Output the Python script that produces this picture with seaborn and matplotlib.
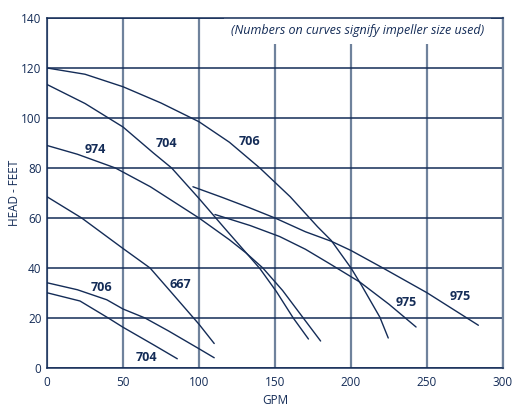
import pandas as pd
import matplotlib
matplotlib.use("Agg")
import matplotlib.pyplot as plt
import seaborn as sns

# pump curves: flow (GPM) and head (feet)
gpm_706_a = [0, 25, 50, 75, 100, 120, 140, 160, 178, 187, 200, 207, 219, 224.5]
head_706_a = [120, 117.5, 112.5, 106, 98.5, 90.3, 80, 68.5, 56.5, 51, 40, 33, 20.3, 12]

gpm_704_a = [0, 25, 50, 70, 82, 100, 117, 134, 140, 151, 162, 172]
head_704_a = [113.4, 105.8, 96.4, 86, 80, 67.8, 55.8, 44, 39.8, 30.5, 20, 11.6]

gpm_974 = [0, 20, 45, 68, 100, 120, 131, 142, 155, 168.6, 180]
head_974 = [89, 85.5, 80, 72.5, 60, 51.3, 46, 40, 31, 20, 10.8]

gpm_667 = [0, 22.8, 50, 67.8, 81, 100, 110]
head_667 = [68.5, 60, 47.8, 40, 30.8, 17.5, 9.8]

gpm_706_b = [0, 20, 39.3, 50, 64.5, 80, 100, 110]
head_706_b = [34.1, 31.3, 27.3, 23.6, 20, 14.8, 7.7, 4.1]

gpm_704_b = [0, 21.7, 40.3, 50, 70, 85.7]
head_704_b = [30.1, 26.8, 20, 16.3, 9.3, 3.7]

gpm_975_a = [96, 115, 133.6, 150, 170, 187, 200, 221, 250, 283.8]
head_975_a = [72.5, 68.3, 64, 60, 54.5, 50.7, 47, 40, 30.1, 17.1]

gpm_975_b = [110.5, 133.6, 153, 170, 186, 206, 225, 242.8]
head_975_b = [61.4, 57, 52.6, 47.5, 41.7, 34.3, 25.5, 16.4]

curves = {
    '706a': (gpm_706_a, head_706_a),
    '704a': (gpm_704_a, head_704_a),
    '974': (gpm_974, head_974),
    '667': (gpm_667, head_667),
    '706b': (gpm_706_b, head_706_b),
    '704b': (gpm_704_b, head_704_b),
    '975a': (gpm_975_a, head_975_a),
    '975b': (gpm_975_b, head_975_b),
}

# impeller size labels placed next to the curves
label_text = ['706', '704', '974', '667', '706', '704', '975', '975']
label_gpm = [133.5, 78.7, 31.6, 88, 36, 65.6, 236.6, 271.7]
label_head = [90.7, 89.7, 87.2, 33.4, 32.3, 4.3, 26.2, 28.5]

rows = []
for name, (xs, ys) in curves.items():
    for x, y in zip(xs, ys):
        rows.append({'curve': name, 'GPM': x, 'HEAD': y})
df = pd.DataFrame(rows)

navy = '#142c57'
grey_blue = '#6f829c'

sns.set_style("white")
plt.rcParams['font.family'] = ['Open Sans', 'DejaVu Sans']

fig, ax = plt.subplots(figsize=(5.15, 4.07), dpi=100)
fig.subplots_adjust(left=0.0913, right=0.9767, top=0.9558, bottom=0.0958)

sns.lineplot(data=df, x='GPM', y='HEAD', units='curve', estimator=None,
             sort=False, color=navy, lw=1.0, ax=ax, legend=False)

for t, x, y in zip(label_text, label_gpm, label_head):
    ax.text(x, y, t, ha='center', va='center', fontsize=9,
            fontweight='bold', color=navy)

ax.set_xlim(0, 300)
ax.set_ylim(0, 140)
ax.set_xticks(range(0, 301, 50))
ax.set_yticks(range(0, 141, 20))

ax.set_axisbelow(True)
ax.yaxis.grid(True, color=navy, lw=1.1)
ax.xaxis.grid(True, color=grey_blue, lw=1.6)

for side in ['left', 'bottom', 'top']:
    ax.spines[side].set_color(navy)
    ax.spines[side].set_linewidth(1.1)
ax.spines['right'].set_color(grey_blue)
ax.spines['right'].set_linewidth(1.6)
ax.spines['top'].set_zorder(5)

ax.tick_params(axis='y', length=3, width=1, color=navy, pad=1,
               labelsize=8.5, labelcolor=navy)
ax.tick_params(axis='x', length=0, pad=6, labelsize=8.5, labelcolor=navy)

ax.set_xlabel('GPM', fontsize=8.5, color=navy, labelpad=3)
ax.set_ylabel('HEAD - FEET', fontsize=8.5, color=navy, labelpad=0)

ax.text(204.3, 134.9, '(Numbers on curves signify impeller size used)',
        ha='center', va='center', fontsize=9, style='italic', color=navy,
        bbox=dict(facecolor='white', edgecolor='none', pad=5))

fig.savefig('out.png', dpi=100)
